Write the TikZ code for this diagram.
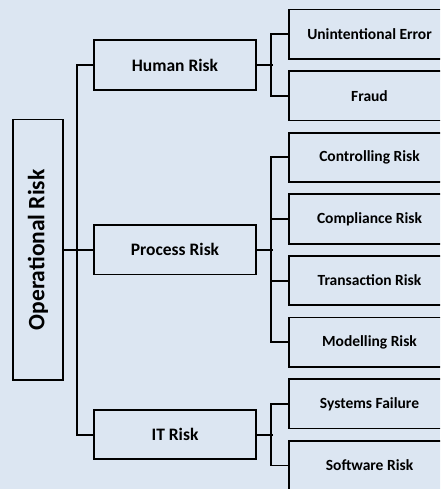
\documentclass[tikz,border=0pt]{standalone}
\usepackage{fontspec}
\setmainfont{Carlito}
\definecolor{bgblue}{HTML}{DCE6F2}
\begin{document}
\begin{tikzpicture}[x=1pt,y=-1pt,
  box/.style={draw=black,line width=1.8pt,fill=bgblue,inner sep=0pt,font=\bfseries},
  lvl/.style={box,minimum width=162pt,minimum height=49.5pt,font=\bfseries\fontsize{17.5}{20}\selectfont},
  leaf/.style={box,minimum width=161pt,minimum height=49.5pt,font=\bfseries\fontsize{15.5}{18}\selectfont},
  conn/.style={draw=black,line width=1.8pt}]
\fill[bgblue] (0,0) rectangle (440,489);
\useasboundingbox (0,0) rectangle (440,489);
\clip (0,0) rectangle (440,489);
\node[box,minimum width=49.5pt,minimum height=260.7pt] (root) at (38,249.8) {};
\node[rotate=90,font=\bfseries\fontsize{23.5}{27}\selectfont] (roottext) at (root.center) {Operational Risk};
\node[lvl] (human) at (175,65) {Human Risk};
\node[lvl] (process) at (175,249.8) {Process Risk};
\node[lvl] (it) at (175,434.6) {IT Risk};
\node[leaf] (l1) at (369.5,34.2) {Unintentional Error};
\node[leaf] (l2) at (369.5,95.8) {Fraud};
\node[leaf] (l3) at (369.5,157.4) {Controlling Risk};
\node[leaf] (l4) at (369.5,219) {Compliance Risk};
\node[leaf] (l5) at (369.5,280.6) {Transaction Risk};
\node[leaf] (l6) at (369.5,342.2) {Modelling Risk};
\node[leaf] (l7) at (369.5,403.8) {Systems Failure};
\node[leaf] (l8) at (369.5,465.4) {Software Risk};
\draw[conn] (root.east) -- (process.west);
\draw[conn] (human.west) -- ++(-16,0) |- (it.west);
\draw[conn] (human.east) -- ++(16,0);
\draw[conn] (process.east) -- ++(16,0);
\draw[conn] (it.east) -- ++(16,0);
\draw[conn] (l1.west) -- ++(-17,0) |- (l2.west);
\draw[conn] (l3.west) -- ++(-17,0) |- (l6.west);
\draw[conn] (l4.west) -- ++(-17,0);
\draw[conn] (l5.west) -- ++(-17,0);
\draw[conn] (l7.west) -- ++(-17,0) |- (l8.west);
\end{tikzpicture}
\end{document}
